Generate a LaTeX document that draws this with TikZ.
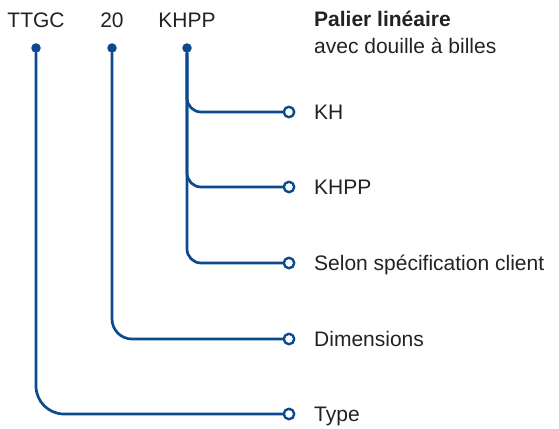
\documentclass[tikz,border=0pt]{standalone}
\usepackage{fontspec}
\setmainfont{Liberation Sans}
\definecolor{bleu}{HTML}{0B4A8F}
\definecolor{texte}{HTML}{222222}
\begin{document}
\begin{tikzpicture}[x=1pt, y=-1pt, line join=round, line cap=round,
  lien/.style={draw=bleu, line width=2.7pt},
  point/.style={circle, fill=bleu, inner sep=0pt, minimum size=9.5pt},
  borne/.style={circle, draw=bleu, fill=white, line width=2.4pt, inner sep=0pt, minimum size=10.5pt},
  etiq/.style={anchor=base west, inner sep=0pt, text=texte, font=\fontsize{21}{25}\selectfont}]
  \useasboundingbox (0,0) rectangle (559,428);
  % code de commande
  \foreach \n/\x/\t in {ttgc/36/TTGC, dim/112/20, khpp/187/KHPP}{
    \node[etiq, anchor=base] (t\n) at (\x,28) {\t};
    \node[point] (p\n) at (\x,48) {};
  }
  % titre
  \node[etiq, font=\fontsize{21}{25}\selectfont\bfseries] (titre) at (314,27) {Palier linéaire};
  \node[etiq] (sous) at (314,53) {avec douille à billes};
  % sorties
  \foreach \n/\y/\t in {kh/112/KH, kp/187/KHPP, sel/263/{Selon spécification client}, dim/339/Dimensions, typ/414/Type}{
    \node[borne] (b\n) at (289,\y) {};
    \node[etiq] (l\n) at (314,\y+7.5) {\t};
  }
  % liaisons
  \foreach \b in {kh,kp,sel}
    \draw[lien, rounded corners=14pt] (pkhpp) |- (b\b);
  \draw[lien, rounded corners=20pt] (pdim) |- (bdim);
  \draw[lien, rounded corners=28pt] (pttgc) |- (btyp);
\end{tikzpicture}
\end{document}
